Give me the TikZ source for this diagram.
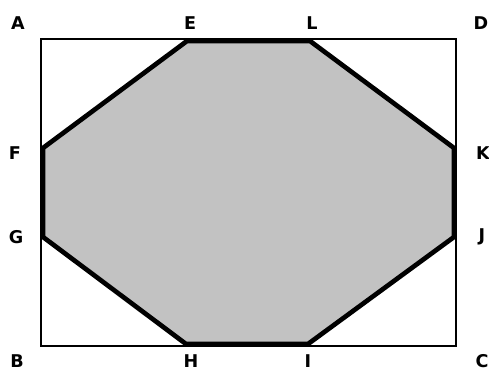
\documentclass[tikz,border=0pt]{standalone}
\usepackage{fontspec}
\setmainfont{DejaVu Sans}
\usepackage{tikz}
\usetikzlibrary{calc,positioning}
\definecolor{octgray}{HTML}{C2C2C2}

\begin{document}
\begin{tikzpicture}[x=0.03cm, y=-0.03cm,
    every node/.style={font=\bfseries\fontsize{15}{17}\selectfont, inner sep=0pt},
    boxline/.style={line width=2pt, line join=miter},
    octline/.style={line width=4pt, line join=round, line cap=round}]
    \useasboundingbox (0,0) rectangle (489,370);

    % Corners of the rectangle
    \coordinate (A) at (41,39);
    \coordinate (D) at (456,39);
    \coordinate (C) at (456,346);
    \coordinate (B) at (41,346);

    % Vertices of the octagon
    \coordinate (E) at (187,41);
    \coordinate (L) at (310,41);
    \coordinate (K) at (454,148);
    \coordinate (J) at (454,237);
    \coordinate (I) at (308,344);
    \coordinate (H) at (186,344);
    \coordinate (G) at (43,237);
    \coordinate (F) at (43,148);

    % Shaded octagon
    \fill[octgray] (E) -- (L) -- (K) -- (J) -- (I) -- (H) -- (G) -- (F) -- cycle;
    \draw[boxline] (A) rectangle (C);
    \draw[octline] (E) -- (L) -- (K) -- (J) -- (I) -- (H) -- (G) -- (F) -- cycle;

    % Labels
    \node (labA) at (18,23) {A};
    \node (labE) at (190,23) {E};
    \node (labL) at (312,23) {L};
    \node (labD) at (481,23) {D};
    \node (labF) at (15,153) {F};
    \node (labK) at (483,153) {K};
    \node (labG) at (16,237) {G};
    \node (labJ) at (482,237) {J};
    \node (labB) at (17,361) {B};
    \node (labH) at (191,361) {H};
    \node (labI) at (308,361) {I};
    \node (labC) at (482,361) {C};
\end{tikzpicture}
\end{document}
